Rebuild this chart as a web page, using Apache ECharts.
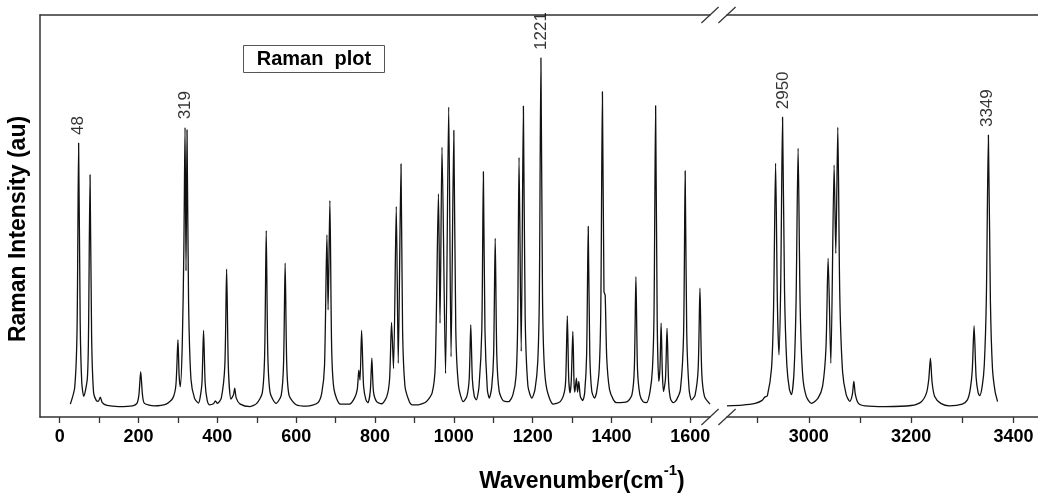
<!DOCTYPE html>
<html>
<head>
<meta charset="utf-8">
<script src="https://cdn.jsdelivr.net/npm/echarts@6/dist/echarts.min.js"></script>
<style>
  html, body { margin: 0; background: #fff; }
  #chart { width: 1038px; height: 501px; }
</style>
</head>
<body>
<div id="chart"></div>
<script>
// spectrum: [wavenumber, intensity] (1221 peak = 100)
const leftSpectrum = [
  [27,0.8],[38,5.5],[44,22],[48,75.6],[52,24],[56,7],[61,3],[70,8],[73,20],[77,66.5],[81,20],[86,4],
  [93,1.8],[98,1.6],[103,2.8],[108,1.2],[120,0.4],[150,0.1],[185,0.3],[196,1.0],[201,3.5],[205.5,10.1],
  [210,3.5],[215,1.0],[240,0.3],[270,0.8],[287,2.5],[295,6.5],[300,19.2],[303,9],[306,5.8],[311,18],
  [315,45],[318,80.1],[320.5,39],[323,79.4],[327,30],[333,8],[342,2.5],[352,1.1],[356,2.5],[361,7],
  [365,21.9],[369,7],[374,2],[380,0.6],[390,0.9],[395,1.7],[400,1.0],[410,2.5],[419,12],[423.5,39.5],
  [428,11],[434.5,2.2],[441,3.5],[444,5.4],[448,2.5],[458,0.8],[483,0.1],[500,1.0],[514,4],[520,15],
  [524,50.5],[528,15],[534,4],[549,1.0],[562,3.3],[568,12.5],[572,41.2],[576,12.5],[582,3.3],[600,0.6],
  [627,0.2],[655,1.2],[665,4],[672,12],[678,49.3],[681,27.8],[685.5,59.1],[690,17],[696,5],[712,0.8],
  [735,0.8],[748,2.5],[755,5],[759,10.5],[762,7.7],[766,21.9],[771,6],[777,2],[782,1.2],[788,4.5],
  [792,14],[796,4.5],[804,1.5],[817,0.9],[830,3],[837,8],[842,24.2],[847,11],[854,57.4],[859,12.5],
  [866,69.6],[870,22],[876,6],[886,1.8],[894,0.6],[910,0.6],[930,1.5],[945,4],[953,12],[961,61],
  [965,24],[970,74.4],[979,9.6],[987,85.9],[993,14.4],[1000,79.2],[1005,22],[1012,6],[1024,1.5],
  [1033,3],[1039,8],[1043,23.5],[1047,8],[1052,3],[1057,2.0],[1064,6],[1071,22],[1075,67.4],[1079,22],
  [1085,5],[1090,2.5],[1096,5.5],[1101,15],[1105,48.3],[1109,15],[1115,4.5],[1125,1.8],[1139,1.5],
  [1150,3.5],[1158,9],[1162,24],[1165.5,71.5],[1171,15.9],[1176.5,86.2],[1181,26],[1188,6],[1198,2.5],
  [1206,5],[1213,13],[1217,32],[1221,100],[1225,32],[1229,13],[1236,5],[1252,0.8],[1270,1.5],[1280,4],
  [1284,8],[1288,26.1],[1291.5,8],[1295,4],[1298,7.5],[1302,21.6],[1305,7],[1307,4.2],[1311,8.2],
  [1314,4.2],[1317,7.3],[1321,3],[1327,1.8],[1332,4],[1337,15],[1341,51.7],[1345,15],[1350,4.5],
  [1357,2.5],[1362,4],[1369,11],[1373,29],[1377,90.3],[1381,33],[1384,32],[1388,14],[1395,5],[1405,2],
  [1413,1.2],[1440,1.5],[1452,3.5],[1458,11],[1462,37.3],[1466,11],[1472,3.5],[1480,1.5],[1489,1.2],
  [1498,4.5],[1504,11],[1508,27],[1512,86.3],[1516,25],[1520,7.3],[1523,11],[1526,24],[1529,10],
  [1532,4.4],[1537,8],[1541,22.5],[1545,7],[1550,2.2],[1557,1.2],[1565,2],[1575,5],[1583,21],
  [1587,67.6],[1591,21],[1597,5],[1603,2.0],[1612,3.3],[1620,11],[1624.5,34],[1629,10],[1636,3],
  [1650,0.8]
];

const rightSpectrum = [
  [2840,0.3],[2870,0.5],[2895,1.0],[2908,1.8],[2914,2.8],[2919,3.2],[2927,11],[2931,28],[2935,69.8],
  [2938.5,30],[2941.5,14.9],[2945,35],[2948.6,83],[2952.5,33],[2957,12],[2962,5],[2966,3.5],[2971,10],
  [2975,30],[2979,74.1],[2983,29],[2988,9],[2995,3],[3005,1.0],[3018,2.5],[3027,6],[3033.5,17],
  [3037.7,42.6],[3043,12.5],[3049.4,69.3],[3052.7,44],[3056.6,80.1],[3060.5,32],[3066,10],[3073,3.5],
  [3080,1.6],[3085,3.5],[3088,7.3],[3091,3.5],[3097,1.0],[3110,0.3],[3150,0.1],[3200,0.4],[3220,1.5],
  [3230,4],[3234.5,8],[3237.7,14],[3241,7],[3246,3],[3258,1],[3275,0.3],[3300,0.8],[3310,2.0],
  [3315.5,5],[3319.5,10.5],[3323,23.2],[3327,8.5],[3331,4],[3334,3.2],[3339,6],[3343,12],[3347,31],
  [3351,77.9],[3355,30],[3359,11],[3364,4.5],[3369,1.5]
];

// labelled peaks
const peakMarksLeft = [[48, 75.6], [319, 80.1], [1221, 100]];
const peakMarksRight = [[2950, 83], [3349, 77.9]];

// ticks
const leftTicks = [0,100,200,300,400,500,600,700,800,900,1000,1100,1200,1300,1400,1500,1600];
const leftLabels = [0,200,400,600,800,1000,1200,1400,1600];
const rightTicks = [2900,3000,3100,3200,3300,3400];
const rightLabels = [3000,3200,3400];

const FONT = '"Liberation Sans", Arial, Helvetica, sans-serif';
const AXIS = '#333';

const L = { left: 40, top: 15, width: 670, height: 402 };
const R = { left: 727, top: 15, width: 311, height: 402 };

const chart = echarts.init(document.getElementById('chart'), null, { renderer: 'canvas' });

function bottomAxis(grid, min, max, ticks, labels) {
  return {
    gridIndex: grid, type: 'value', position: 'bottom', min, max,
    axisLine: { onZero: false, lineStyle: { color: AXIS, width: 1.5 } },
    axisTick: { customValues: ticks, length: 6, lineStyle: { color: AXIS, width: 1.3 } },
    axisLabel: { customValues: labels, margin: 11, color: '#000', fontWeight: 'bold',
      fontSize: 18, fontFamily: FONT, formatter: (v) => String(v) },
    splitLine: { show: false },
  };
}
function topAxis(grid, min, max) {
  return {
    gridIndex: grid, type: 'value', position: 'top', min, max,
    axisLine: { onZero: false, lineStyle: { color: AXIS, width: 1.5 } },
    axisTick: { show: false }, axisLabel: { show: false }, splitLine: { show: false },
  };
}
function yAx(grid, showLine) {
  return {
    gridIndex: grid, type: 'value', min: -2.9, max: 112.3,
    axisLine: { show: showLine, onZero: false, lineStyle: { color: AXIS, width: 1.5 } },
    axisTick: { show: false }, axisLabel: { show: false }, splitLine: { show: false },
  };
}

const lineSeries = (xi, yi, data) => ({
  type: 'line', xAxisIndex: xi, yAxisIndex: yi, data,
  showSymbol: false, symbol: 'none', silent: true, sampling: null,
  smooth: 0.25,
  lineStyle: { color: '#111', width: 1.3, join: 'round' },
});
const labelSeries = (xi, yi, data) => ({
  type: 'scatter', xAxisIndex: xi, yAxisIndex: yi, data, symbolSize: 0, silent: true,
  label: {
    show: true, position: 'top', distance: 8, rotate: 90, align: 'left', verticalAlign: 'middle',
    fontSize: 17, fontFamily: FONT, color: '#000',
    formatter: (p) => String(p.value[0]),
  },
});

// axis break "//" marks at both ends of the gap, top and bottom
const breakMarks = [];
[L.top, L.top + L.height].forEach((y) => {
  [L.left + L.width, R.left].forEach((cx) => {
    breakMarks.push({
      type: 'line', silent: true,
      shape: { x1: cx - 8.6, y1: y + 8, x2: cx + 8.6, y2: y - 8 },
      style: { stroke: AXIS, lineWidth: 1.2 },
    });
  });
});

chart.setOption({
  animation: false,
  backgroundColor: '#fff',
  grid: [
    { left: L.left, top: L.top, width: L.width, height: L.height },
    { left: R.left, top: R.top, width: R.width, height: R.height },
  ],
  xAxis: [
    bottomAxis(0, -50, 1650, leftTicks, leftLabels),
    topAxis(0, -50, 1650),
    bottomAxis(1, 2840, 3448, rightTicks, rightLabels),
    topAxis(1, 2840, 3448),
  ],
  yAxis: [yAx(0, true), yAx(1, false)],
  series: [
    lineSeries(0, 0, leftSpectrum),
    lineSeries(2, 1, rightSpectrum),
    labelSeries(0, 0, peakMarksLeft),
    labelSeries(2, 1, peakMarksRight),
  ],
  graphic: [
    ...breakMarks,
    {
      type: 'rect', silent: true,
      shape: { x: 243.5, y: 45.5, width: 141, height: 27 },
      style: { fill: '#fff', stroke: '#555', lineWidth: 1 },
    },
    {
      type: 'text', silent: true, x: 314, y: 59.5,
      style: { text: 'Raman  plot', font: `bold 20px ${FONT}`, fill: '#000',
        align: 'center', verticalAlign: 'middle' },
    },
    {
      type: 'text', silent: true, x: 19, y: 229, rotation: Math.PI / 2,
      style: { text: 'Raman Intensity (au)', font: `bold 23px ${FONT}`, fill: '#000',
        align: 'center', verticalAlign: 'middle' },
    },
    {
      type: 'text', silent: true, x: 582, y: 478,
      style: {
        text: '{main|Wavenumber(cm}{sup|-1}{main|)}',
        align: 'center', verticalAlign: 'middle',
        rich: {
          main: { fontSize: 23, fontWeight: 'bold', fontFamily: FONT, color: '#000',
            lineHeight: 30, verticalAlign: 'bottom' },
          sup: { fontSize: 15, fontWeight: 'bold', fontFamily: FONT, color: '#000',
            lineHeight: 15, verticalAlign: 'top' },
        },
      },
    },
  ],
});
</script>
</body>
</html>
